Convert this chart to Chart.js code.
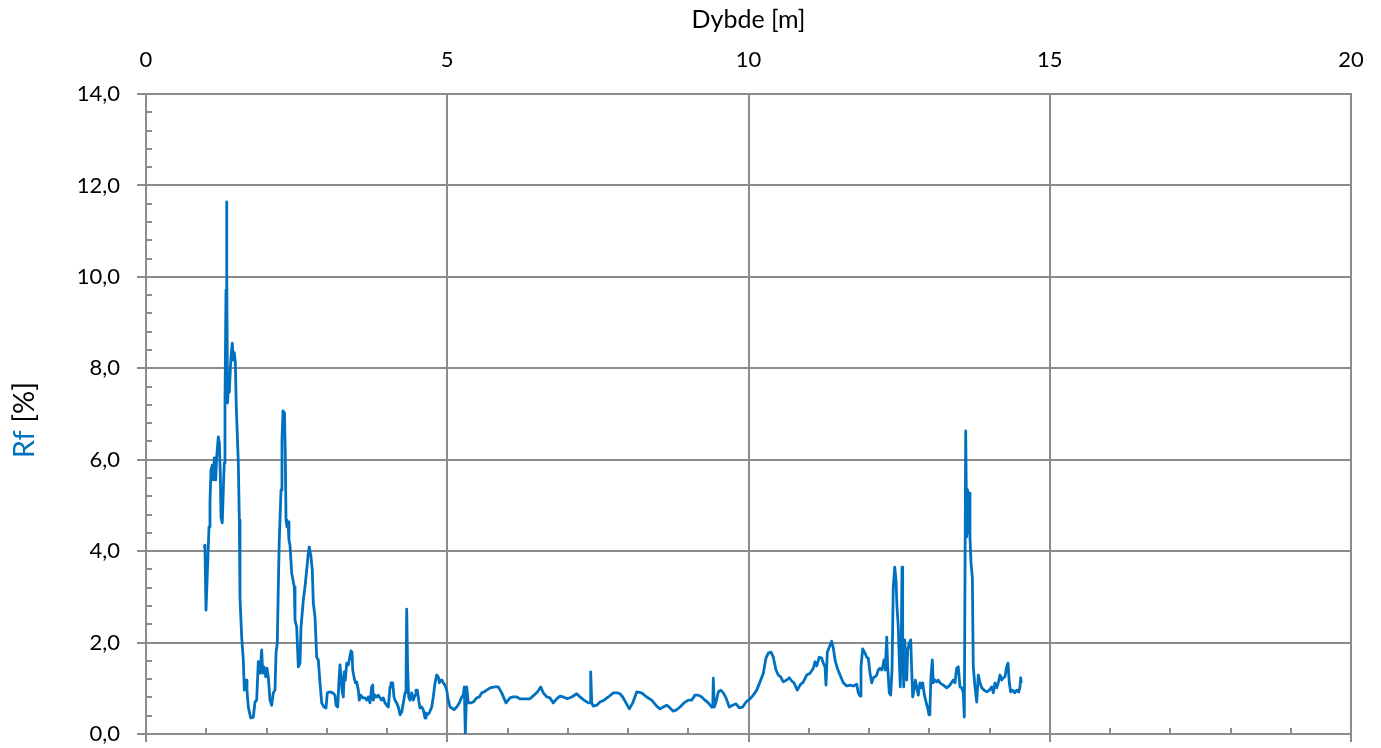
<!DOCTYPE html>
<html>
<head>
<meta charset="utf-8">
<title>Rf - Dybde</title>
<script src="https://cdn.jsdelivr.net/npm/chart.js@4.4.1/dist/chart.umd.min.js"></script>
<style>
    html, body { margin: 0; padding: 0; background: #fff; }
    #wrap { width: 1381px; height: 748px; position: relative; }
</style>
</head>
<body>
<div id="wrap"><canvas id="rfChart"></canvas></div>
<script>
// Dybde [m]
const depth = [
    0.963, 0.979, 0.996, 1.024, 1.046, 1.062, 1.079, 1.100, 1.117, 1.134, 1.157, 1.173,
    1.200, 1.217, 1.233, 1.245, 1.266, 1.290, 1.300, 1.311, 1.328, 1.336, 1.344, 1.353,
    1.366, 1.383, 1.399, 1.411, 1.432, 1.449, 1.466, 1.482, 1.499, 1.532, 1.549, 1.560,
    1.588, 1.615, 1.632, 1.660, 1.676, 1.698, 1.738, 1.781, 1.809, 1.837, 1.864, 1.892,
    1.920, 1.937, 1.959, 1.987, 2.008, 2.030, 2.058, 2.086, 2.113, 2.141, 2.158, 2.179,
    2.196, 2.212, 2.241, 2.257, 2.274, 2.299, 2.312, 2.324, 2.340, 2.357, 2.373, 2.390,
    2.418, 2.461, 2.473, 2.501, 2.528, 2.556, 2.573, 2.611, 2.639, 2.667, 2.694, 2.710,
    2.739, 2.760, 2.777, 2.805, 2.833, 2.860, 2.888, 2.916, 2.954, 2.988, 3.009, 3.054,
    3.099, 3.137, 3.154, 3.182, 3.203, 3.220, 3.237, 3.253, 3.275, 3.291, 3.308, 3.331,
    3.358, 3.374, 3.402, 3.419, 3.431, 3.452, 3.474, 3.497, 3.524, 3.540, 3.563, 3.597,
    3.635, 3.663, 3.690, 3.718, 3.746, 3.763, 3.773, 3.801, 3.829, 3.856, 3.884, 3.912,
    3.939, 3.967, 3.995, 4.022, 4.050, 4.066, 4.095, 4.116, 4.133, 4.161, 4.188, 4.216,
    4.244, 4.271, 4.299, 4.315, 4.327, 4.343, 4.360, 4.382, 4.410, 4.437, 4.465, 4.481,
    4.503, 4.526, 4.548, 4.576, 4.602, 4.631, 4.647, 4.669, 4.702, 4.742, 4.768, 4.797,
    4.825, 4.851, 4.868, 4.891, 4.913, 4.934, 4.963, 4.991, 5.017, 5.046, 5.074, 5.112,
    5.157, 5.200, 5.240, 5.266, 5.283, 5.300, 5.323, 5.349, 5.389, 5.432, 5.489, 5.532,
    5.572, 5.610, 5.655, 5.710, 5.793, 5.847, 5.904, 5.975, 6.041, 6.096, 6.153, 6.207,
    6.290, 6.373, 6.440, 6.495, 6.551, 6.594, 6.651, 6.705, 6.760, 6.817, 6.871, 6.926,
    6.993, 7.066, 7.149, 7.203, 7.270, 7.341, 7.374, 7.381, 7.398, 7.424, 7.480, 7.535,
    7.602, 7.673, 7.756, 7.822, 7.867, 7.912, 7.967, 8.022, 8.078, 8.144, 8.227, 8.310,
    8.393, 8.476, 8.531, 8.586, 8.642, 8.697, 8.752, 8.808, 8.863, 8.929, 9.001, 9.057,
    9.112, 9.167, 9.223, 9.278, 9.333, 9.389, 9.407, 9.416, 9.432, 9.461, 9.499, 9.539,
    9.582, 9.627, 9.681, 9.738, 9.793, 9.847, 9.904, 9.959, 10.025, 10.080, 10.136, 10.191,
    10.246, 10.290, 10.329, 10.373, 10.412, 10.456, 10.495, 10.534, 10.578, 10.634, 10.677, 10.717,
    10.755, 10.810, 10.855, 10.910, 10.966, 11.021, 11.076, 11.104, 11.132, 11.175, 11.215, 11.241,
    11.270, 11.286, 11.308, 11.341, 11.381, 11.408, 11.436, 11.474, 11.519, 11.573, 11.630, 11.685,
    11.740, 11.796, 11.822, 11.851, 11.867, 11.895, 11.934, 11.962, 11.988, 12.017, 12.045, 12.071,
    12.100, 12.128, 12.154, 12.183, 12.211, 12.227, 12.249, 12.270, 12.294, 12.310, 12.337, 12.360,
    12.382, 12.403, 12.427, 12.448, 12.465, 12.486, 12.503, 12.519, 12.536, 12.548, 12.559, 12.576,
    12.593, 12.609, 12.626, 12.642, 12.669, 12.692, 12.709, 12.725, 12.747, 12.769, 12.792, 12.818,
    12.846, 12.875, 12.892, 12.913, 12.946, 12.974, 12.996, 13.012, 13.029, 13.051, 13.067, 13.095,
    13.124, 13.150, 13.178, 13.233, 13.290, 13.344, 13.399, 13.427, 13.455, 13.482, 13.510, 13.539,
    13.565, 13.582, 13.605, 13.622, 13.638, 13.648, 13.665, 13.676, 13.693, 13.715, 13.731, 13.759,
    13.788, 13.814, 13.842, 13.871, 13.909, 13.954, 13.997, 14.037, 14.063, 14.091, 14.120, 14.146,
    14.174, 14.203, 14.229, 14.257, 14.285, 14.307, 14.329, 14.352, 14.385, 14.418, 14.451, 14.485,
    14.506, 14.518, 14.527
];

// Rf [%]
const rf = [
    4.13, 4.07, 2.71, 3.74, 4.53, 5.08, 5.78, 5.88, 5.56, 6.04, 5.56, 6.06,
    6.50, 6.37, 5.71, 4.73, 4.62, 5.62, 5.93, 7.24, 9.71, 11.64, 10.09, 7.24,
    7.53, 7.48, 7.96, 8.25, 8.55, 8.18, 8.34, 8.14, 7.15, 5.93, 4.68, 2.98,
    2.12, 1.62, 0.96, 1.18, 0.96, 0.59, 0.35, 0.37, 0.70, 0.74, 1.58, 1.33,
    1.84, 1.33, 1.47, 1.25, 1.44, 1.25, 0.74, 0.63, 0.90, 0.96, 1.77, 1.99,
    3.22, 4.24, 5.34, 6.43, 7.07, 7.02, 6.10, 4.68, 4.53, 4.64, 4.24, 4.13,
    3.52, 3.22, 2.49, 2.34, 1.47, 1.55, 2.34, 2.93, 3.22, 3.59, 3.96, 4.09,
    3.87, 3.59, 2.87, 2.56, 1.68, 1.62, 1.12, 0.68, 0.59, 0.57, 0.90, 0.92,
    0.90, 0.85, 0.63, 0.59, 1.18, 1.51, 1.25, 0.96, 0.81, 1.36, 1.18, 1.55,
    1.51, 1.62, 1.82, 1.79, 1.40, 1.25, 1.12, 1.14, 0.96, 0.74, 0.85, 0.79,
    0.79, 0.74, 0.81, 0.68, 1.03, 1.07, 0.74, 0.85, 0.81, 0.85, 0.79, 0.74,
    0.79, 0.68, 0.63, 0.59, 1.03, 1.12, 1.12, 0.81, 0.74, 0.68, 0.59, 0.42,
    0.48, 0.68, 0.90, 0.96, 2.73, 1.40, 0.81, 0.74, 0.90, 0.74, 0.85, 0.96,
    0.96, 0.74, 0.57, 0.59, 0.53, 0.35, 0.46, 0.42, 0.46, 0.59, 0.81, 1.12,
    1.29, 1.25, 1.12, 1.18, 1.18, 1.12, 1.07, 0.96, 0.74, 0.59, 0.57, 0.53,
    0.59, 0.68, 0.81, 0.85, 1.03, 0.00, 1.03, 0.68, 0.68, 0.70, 0.79, 0.81,
    0.90, 0.92, 0.96, 1.01, 1.03, 1.03, 0.90, 0.68, 0.79, 0.81, 0.81, 0.77,
    0.77, 0.77, 0.85, 0.92, 1.03, 0.90, 0.81, 0.79, 0.68, 0.77, 0.83, 0.81,
    0.77, 0.81, 0.88, 0.81, 0.74, 0.68, 0.68, 1.36, 0.68, 0.61, 0.63, 0.70,
    0.74, 0.81, 0.90, 0.90, 0.88, 0.81, 0.68, 0.55, 0.68, 0.92, 0.90, 0.81,
    0.74, 0.61, 0.55, 0.59, 0.63, 0.57, 0.50, 0.53, 0.59, 0.68, 0.74, 0.74,
    0.85, 0.85, 0.81, 0.74, 0.68, 0.59, 0.59, 1.22, 0.59, 0.70, 0.92, 0.96,
    0.90, 0.79, 0.59, 0.63, 0.66, 0.57, 0.59, 0.70, 0.77, 0.85, 0.96, 1.14,
    1.33, 1.66, 1.77, 1.79, 1.68, 1.40, 1.29, 1.25, 1.14, 1.18, 1.23, 1.16,
    1.12, 0.96, 1.07, 1.14, 1.29, 1.33, 1.44, 1.58, 1.49, 1.68, 1.66, 1.55,
    1.47, 1.07, 1.79, 1.90, 2.03, 1.88, 1.62, 1.44, 1.29, 1.12, 1.05, 1.07,
    1.05, 1.09, 0.90, 0.83, 1.47, 1.86, 1.77, 1.68, 1.66, 1.33, 1.12, 1.23,
    1.25, 1.29, 1.40, 1.44, 1.40, 1.47, 1.62, 1.40, 2.12, 1.47, 0.90, 0.85,
    1.40, 3.22, 3.65, 3.37, 2.78, 2.34, 1.62, 1.03, 1.99, 3.65, 2.12, 1.03,
    2.06, 1.62, 1.18, 1.84, 1.99, 2.06, 1.40, 0.81, 0.96, 1.18, 1.03, 0.85,
    1.12, 1.01, 1.12, 0.90, 0.70, 0.57, 0.42, 0.59, 1.25, 1.62, 1.12, 1.18,
    1.14, 1.18, 1.12, 1.07, 1.01, 1.07, 1.18, 1.12, 1.44, 1.47, 1.03, 1.01,
    0.90, 0.37, 6.63, 4.31, 5.34, 4.40, 5.27, 4.31, 3.74, 3.43, 1.47, 1.03,
    0.70, 1.29, 1.12, 1.01, 0.96, 0.92, 0.96, 1.03, 0.90, 1.12, 1.01, 1.12,
    1.29, 1.18, 1.23, 1.25, 1.47, 1.55, 1.12, 0.92, 0.96, 0.90, 0.96, 0.92,
    1.03, 1.23, 1.12
];

const depthTicks = [0, 5, 10, 15, 20];
const rfTicks = [0, 2, 4, 6, 8, 10, 12, 14];

const FONT = 'Lato, "Open Sans", sans-serif';
const GRID = '#8c8c8c';
const LINE_BLUE = '#0070C0';

// små tikkmerker + y-aksetittel med to farger
const axisExtras = {
    id: 'axisExtras',
    beforeDatasetsDraw(chart) {
        const { ctx, chartArea, scales: { x, y } } = chart;
        ctx.save();
        ctx.strokeStyle = GRID;
        ctx.lineWidth = 2;
        ctx.beginPath();
        // y: 4 mellomtikk mellom hver hovedverdi, innover
        for (let i = 0; i <= 35; i++) {
            if (i % 5 === 0) continue;
            const py = Math.round(y.getPixelForValue(i * 0.4));
            ctx.moveTo(chartArea.left, py);
            ctx.lineTo(chartArea.left + 6, py);
        }
        // x: tikk hver meter langs bunnen
        for (let d = 0; d <= 20; d++) {
            const px = Math.round(x.getPixelForValue(d));
            if (d % 5 === 0) {
                ctx.moveTo(px, chartArea.bottom);
                ctx.lineTo(px, chartArea.bottom + 8);
            } else {
                ctx.moveTo(px, chartArea.bottom);
                ctx.lineTo(px, chartArea.bottom - 6);
            }
        }
        ctx.stroke();
        ctx.restore();
    },
    afterDraw(chart) {
        const { ctx } = chart;
        ctx.save();
        ctx.font = '29px ' + FONT;
        ctx.textBaseline = 'alphabetic';
        const a = 'Rf';
        const b = ' [%]';
        const wa = ctx.measureText(a).width;
        const wb = ctx.measureText(b).width;
        ctx.translate(34, 420);
        ctx.rotate(-Math.PI / 2);
        const start = -(wa + wb) / 2;
        ctx.fillStyle = LINE_BLUE;
        ctx.fillText(a, start, 0);
        ctx.fillStyle = '#000';
        ctx.fillText(b, start + wa, 0);
        ctx.restore();
    }
};

const ctx = document.getElementById('rfChart');
new Chart(ctx, {
    type: 'line',
    data: {
        datasets: [{
            label: 'Rf',
            data: depth.map((d, i) => ({ x: d, y: rf[i] })),
            borderColor: LINE_BLUE,
            borderWidth: 2.8,
            borderJoinStyle: 'round',
            pointRadius: 0,
            tension: 0,
            fill: false
        }]
    },
    options: {
        responsive: true,
        maintainAspectRatio: false,
        animation: false,
        events: [],
        layout: { padding: { left: 0, right: 30, top: 0, bottom: 14 } },
        plugins: {
            legend: { display: false },
            tooltip: { enabled: false }
        },
        scales: {
            x: {
                type: 'linear',
                position: 'top',
                min: 0,
                max: 20,
                afterBuildTicks: (scale) => { scale.ticks = depthTicks.map(v => ({ value: v })); },
                afterFit: (scale) => {
                    scale.height = 94;
                    scale.paddingLeft = 0;
                    scale.paddingRight = 0;
                },
                ticks: {
                    font: { family: FONT, size: 22 },
                    color: '#000',
                    padding: 21,
                    maxRotation: 0
                },
                grid: { color: GRID, lineWidth: 2, drawTicks: false },
                border: { color: GRID, width: 2 },
                title: {
                    display: true,
                    text: 'Dybde [m]',
                    color: '#000',
                    font: { family: FONT, size: 25 },
                    padding: { top: 5, bottom: 0 }
                }
            },
            y: {
                min: 0,
                max: 14,
                afterBuildTicks: (scale) => { scale.ticks = rfTicks.map(v => ({ value: v })); },
                afterFit: (scale) => {
                    scale.width = 146;
                    scale.paddingTop = 0;
                    scale.paddingBottom = 0;
                },
                ticks: {
                    font: { family: FONT, size: 22 },
                    color: '#000',
                    padding: 17,
                    callback: (v) => v.toFixed(1).replace('.', ',')
                },
                grid: { color: GRID, lineWidth: 2, tickLength: 9, tickColor: GRID },
                border: { color: GRID, width: 2 }
            }
        }
    },
    plugins: [axisExtras]
});
</script>
</body>
</html>
